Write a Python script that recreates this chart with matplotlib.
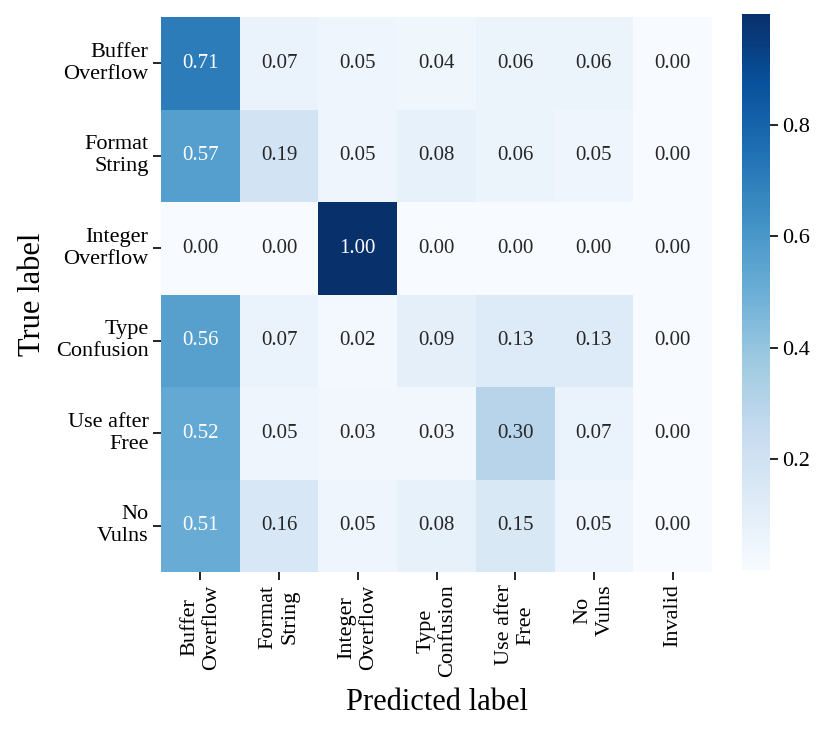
import numpy as np
import matplotlib
matplotlib.use("Agg")
import matplotlib.pyplot as plt
import seaborn as sns

plt.rcParams['font.family'] = ['Liberation Serif', 'DejaVu Serif']

row_labels = ["Buffer\nOverflow", "Format\nString", "Integer\nOverflow",
              "Type\nConfusion", "Use after\nFree", "No\nVulns"]
col_labels = ["Buffer\nOverflow", "Format\nString", "Integer\nOverflow",
              "Type\nConfusion", "Use after\nFree", "No\nVulns", "Invalid"]

buffer_overflow = [0.71, 0.07, 0.05, 0.04, 0.06, 0.06, 0.00]
format_string   = [0.57, 0.19, 0.05, 0.08, 0.06, 0.05, 0.00]
integer_overflow = [0.00, 0.00, 1.00, 0.00, 0.00, 0.00, 0.00]
type_confusion  = [0.56, 0.07, 0.02, 0.09, 0.13, 0.13, 0.00]
use_after_free  = [0.52, 0.05, 0.03, 0.03, 0.30, 0.07, 0.00]
no_vulns        = [0.51, 0.16, 0.05, 0.08, 0.15, 0.05, 0.00]

matrix = np.array([buffer_overflow, format_string, integer_overflow,
                   type_confusion, use_after_free, no_vulns])

fig = plt.figure(figsize=(8.3, 7.33), dpi=100)
W, H = 830, 733
ax = fig.add_axes([161 / W, 1 - 572 / H, (712 - 161) / W, (572 - 17) / H])
cax = fig.add_axes([742 / W, 1 - 570 / H, (770 - 742) / W, (570 - 14) / H])

sns.heatmap(matrix, ax=ax, cbar_ax=cax, cmap="Blues", vmin=0, vmax=1,
            annot=True, fmt=".2f", annot_kws={"fontsize": 15},
            xticklabels=col_labels, yticklabels=row_labels)

ax.tick_params(axis='both', labelsize=16, length=5.5, width=1.2)
plt.setp(ax.get_xticklabels(), rotation=90, ha='center', va='top')
plt.setp(ax.get_yticklabels(), rotation=0, ha='right', va='center')
ax.set_xlabel("Predicted label", fontsize=22, labelpad=8)
ax.set_ylabel("True label", fontsize=22, labelpad=6)

cax.set_yticks([0.2, 0.4, 0.6, 0.8])
cax.tick_params(labelsize=16, length=5.5, width=1.2)

fig.savefig("out.png", dpi=100)
